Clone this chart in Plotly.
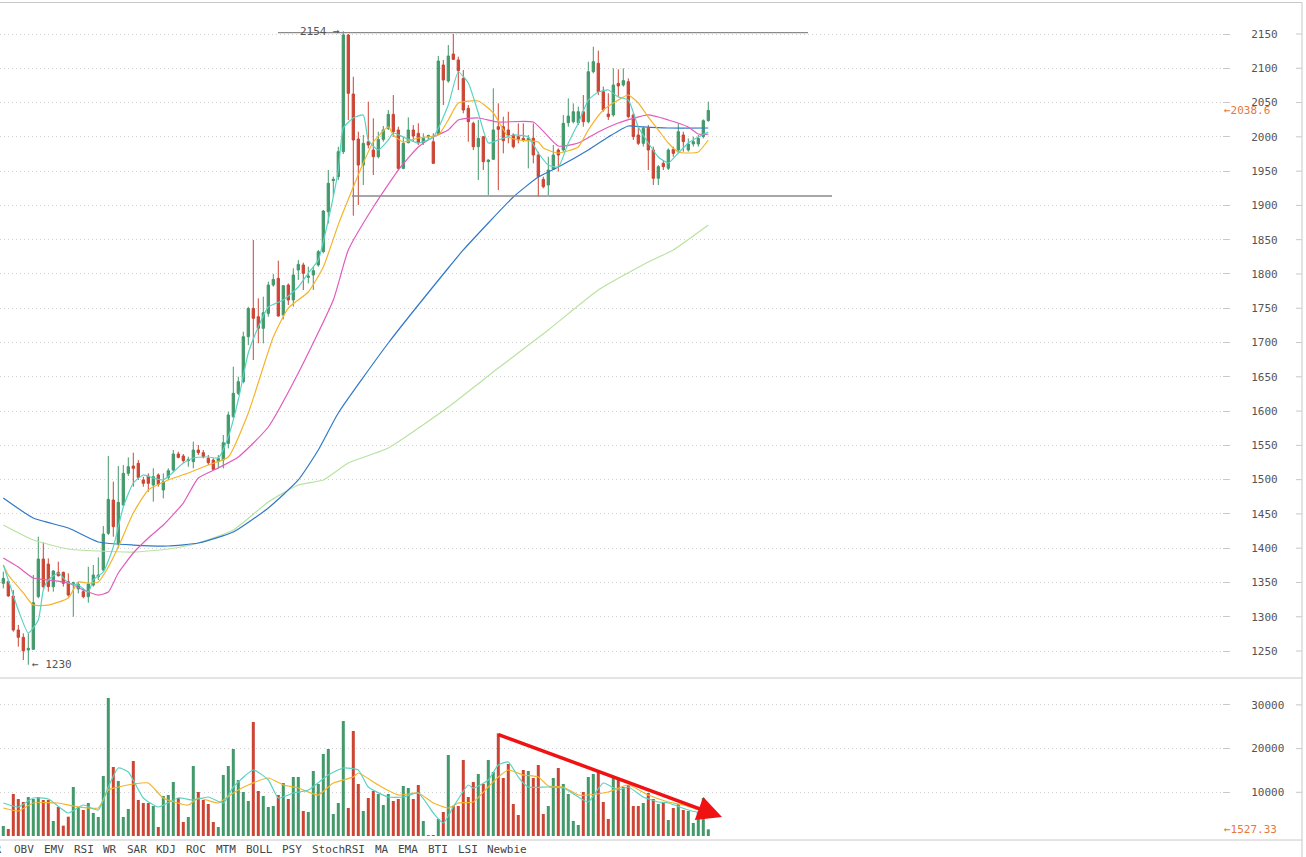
import plotly.graph_objects as go

# ---------------- data ----------------
open_ = [1348.7, 1351.2, 1330.3, 1280.7, 1270.0, 1251.5, 1252.5, 1329.3, 1384.2, 1376.9,
         1343.9, 1364.8, 1364.8, 1351.2, 1347.8, 1340.5, 1336.6, 1329.3, 1346.3, 1358.5,
         1368.2, 1421.7, 1470.3, 1407.1, 1463.0, 1509.2, 1519.9, 1523.8, 1499.5, 1505.3,
         1492.2, 1506.8, 1484.9, 1503.3, 1514.0, 1537.4, 1534.5, 1527.7, 1526.2, 1543.2,
         1539.3, 1531.0, 1528.6, 1526.2, 1528.6, 1552.9, 1591.8, 1625.9, 1642.9, 1708.5,
         1749.8, 1737.7, 1720.7, 1742.5, 1783.9, 1793.6, 1740.1, 1783.9, 1762.0, 1805.8,
         1813.1, 1795.1, 1798.5, 1813.1, 1832.5, 1890.8, 1936.1, 1941.9, 1978.4, 2148.5,
         2062.5, 1996.8, 1958.9, 1992.9, 1980.8, 1971.1, 1996.3, 2012.4, 2032.8, 2010.0,
         1954.0, 1991.5, 2010.0, 2005.1, 1991.5, 2000.0, 1992.9, 2005.1, 2104.8, 2081.4,
         2120.8, 2112.1, 2085.3, 2041.6, 2019.7, 1985.6, 2000.2, 1963.8, 1967.2, 2014.8,
         2014.8, 2010.0, 2002.7, 2000.2, 1997.8, 1995.4, 1998.0, 1973.5, 1938.0, 1929.7,
         1952.6, 1980.8, 1980.8, 2020.6, 2022.1, 2020.6, 2036.7, 2022.1, 2095.0, 2107.2,
         2065.9, 2033.3, 2031.9, 2078.0, 2075.6, 2080.5, 2031.9, 2002.7, 1990.5, 2012.4,
         1980.8, 1939.5, 1961.4, 1954.1, 1981.8, 1980.8, 2002.7, 1980.8, 1989.6, 1989.6,
         2000.3, 2023.6]
high = [1365.8, 1353.6, 1339.0, 1288.0, 1275.8, 1275.8, 1360.9, 1416.8, 1408.5, 1385.2,
        1368.2, 1380.3, 1365.8, 1363.3, 1351.2, 1351.2, 1341.4, 1373.0, 1375.5, 1386.7,
        1432.4, 1534.5, 1497.0, 1519.9, 1521.3, 1532.5, 1539.3, 1528.6, 1504.3, 1509.2,
        1516.5, 1509.2, 1509.2, 1516.5, 1543.2, 1540.8, 1537.4, 1533.5, 1555.4, 1550.5,
        1543.2, 1535.9, 1531.0, 1535.9, 1565.1, 1599.1, 1664.8, 1650.2, 1715.8, 1752.0,
        1849.5, 1764.4, 1766.9, 1788.7, 1799.9, 1819.4, 1783.9, 1786.3, 1808.2, 1820.3,
        1816.4, 1810.6, 1810.6, 1835.0, 1893.3, 1951.6, 1941.9, 1985.6, 2154.0, 2150.0,
        2087.7, 2007.5, 2002.7, 2051.3, 2027.0, 2007.5, 2015.8, 2039.1, 2061.0, 2014.8,
        2000.2, 2028.4, 2017.2, 2019.7, 2005.1, 2003.0, 2005.1, 2117.9, 2112.1, 2133.9,
        2150.0, 2116.9, 2097.5, 2046.4, 2022.1, 2024.5, 2001.2, 1967.0, 2070.7, 2048.9,
        2029.4, 2036.7, 2005.1, 2019.7, 2019.7, 2002.7, 2019.7, 1978.3, 1941.9, 1971.0,
        1988.1, 1983.2, 2031.8, 2056.1, 2048.8, 2044.0, 2061.0, 2109.6, 2131.5, 2125.7,
        2073.2, 2063.5, 2099.9, 2098.5, 2099.9, 2085.3, 2034.3, 2014.8, 2014.8, 2017.3,
        1985.7, 1958.9, 1966.2, 1983.2, 1985.7, 2019.7, 2007.5, 1997.8, 2000.3, 2002.7,
        2025.5, 2051.3]
low = [1341.4, 1329.3, 1278.2, 1256.4, 1236.9, 1230.0, 1251.5, 1327.0, 1341.4, 1336.6,
       1336.6, 1358.5, 1343.9, 1329.3, 1300.1, 1334.1, 1326.9, 1320.5, 1343.9, 1353.6,
       1365.8, 1419.2, 1416.8, 1399.8, 1461.0, 1505.3, 1489.7, 1499.5, 1489.7, 1482.4,
       1467.9, 1489.7, 1472.7, 1499.5, 1511.6, 1531.0, 1524.7, 1518.9, 1516.5, 1535.9,
       1531.0, 1521.3, 1514.0, 1516.4, 1516.4, 1545.6, 1589.4, 1623.4, 1640.4, 1696.3,
       1674.5, 1698.8, 1698.8, 1737.7, 1781.4, 1737.7, 1733.8, 1754.7, 1752.3, 1791.2,
       1776.6, 1786.3, 1776.6, 1810.6, 1830.1, 1873.8, 1912.7, 1937.0, 1975.0, 2024.5,
       1885.0, 1900.6, 1929.7, 1983.2, 1944.3, 1968.6, 1992.9, 2010.0, 2000.2, 1951.6,
       1952.6, 1990.5, 1992.9, 1988.1, 1988.1, 1996.0, 1960.4, 2002.7, 2046.4, 2079.0,
       2112.1, 2068.3, 2034.3, 1992.9, 1980.8, 1937.0, 1951.6, 1915.2, 1966.2, 1922.4,
       1975.9, 1990.5, 1983.2, 1990.5, 1992.9, 1954.0, 1961.3, 1912.7, 1924.9, 1915.1,
       1951.6, 1949.2, 1978.3, 2014.8, 2019.7, 2017.2, 2014.8, 2019.7, 2092.6, 2061.0,
       2036.7, 2024.6, 2029.4, 2058.6, 2073.2, 2027.0, 1995.4, 1988.1, 1985.7, 1951.6,
       1929.8, 1929.8, 1951.6, 1951.6, 1971.1, 1975.9, 1978.4, 1978.4, 1985.7, 1985.7,
       1997.8, 2022.1]
close = [1356.0, 1330.3, 1280.7, 1270.0, 1250.5, 1253.9, 1320.5, 1384.2, 1343.9, 1343.9,
         1366.7, 1359.9, 1348.7, 1331.7, 1349.7, 1347.3, 1329.3, 1347.8, 1360.9, 1360.9,
         1420.7, 1471.3, 1431.4, 1466.9, 1509.2, 1518.9, 1516.5, 1503.3, 1494.6, 1494.6,
         1504.3, 1493.1, 1497.0, 1513.1, 1537.4, 1532.5, 1527.7, 1529.6, 1543.2, 1539.3,
         1533.5, 1524.7, 1515.0, 1531.0, 1553.9, 1594.3, 1625.9, 1642.9, 1708.5, 1749.8,
         1735.3, 1720.7, 1743.5, 1783.9, 1792.1, 1738.7, 1782.9, 1762.0, 1798.5, 1814.0,
         1800.9, 1797.0, 1804.8, 1832.5, 1891.8, 1932.2, 1938.0, 1978.4, 2148.5, 2063.4,
         1995.4, 1958.9, 1990.5, 1988.1, 1971.1, 1996.3, 2010.0, 2032.8, 2007.5, 1954.0,
         1990.5, 2010.0, 2001.2, 1991.5, 1997.8, 2002.0, 1961.3, 2110.6, 2082.9, 2117.9,
         2113.0, 2096.5, 2039.1, 2022.1, 1985.6, 1997.8, 1963.8, 1966.2, 2010.0, 2010.9,
         1994.4, 2002.7, 1985.6, 1996.3, 1995.4, 1997.8, 1973.5, 1941.9, 1927.3, 1951.6,
         1973.5, 1973.5, 2019.7, 2030.4, 2036.7, 2036.7, 2022.1, 2095.0, 2109.7, 2065.9,
         2039.2, 2029.4, 2075.6, 2074.2, 2082.0, 2029.4, 2000.3, 1990.5, 2012.4, 1980.8,
         1939.5, 1956.5, 1956.5, 1980.8, 1975.9, 2007.5, 1993.0, 1989.6, 1993.0, 1997.8,
         2023.6, 2038.6]
volume = [2288, 1602, 9611, 8467, 7781, 8925, 8467, 8925, 8238, 8238,
          3433, 6636, 2365, 4424, 11213, 6636, 5950, 7552, 5263, 4348,
          13730, 31580, 15790, 12586, 4348, 6179, 17163, 8238, 7552, 7552,
          6865, 2060, 9154, 9382, 12357, 8696, 3204, 4348, 16019, 10069,
          8238, 7323, 3204, 2060, 13959, 16019, 19909, 12815, 10069, 8009,
          26088, 10298, 9154, 6636, 6865, 9382, 12129, 8467, 13502, 13502,
          5721, 5492, 14875, 11900, 18765, 19909, 5034, 7552, 26317, 6408,
          24028, 11900, 5721, 8696, 10298, 9611, 7094, 9611, 8009, 8467,
          11442, 10984, 8467, 11671, 3433, 229, 229, 3890, 5492, 18536,
          6865, 6865, 17392, 8925, 12357, 14188, 11900, 17392, 14646, 23494,
          13273, 16476, 7323, 4806, 15103, 14875, 13273, 16248, 5034, 6865,
          13273, 15561, 11900, 9611, 3433, 2517, 10069, 13502, 14188, 14646,
          7781, 3890, 13273, 12815, 11213, 11671, 6865, 6865, 7552, 9840,
          8467, 7323, 7781, 3661, 6408, 7323, 5950, 5721, 2975, 5492,
          8696, 1527.33]
candle_idx = list(range(len(close)))

# moving-average lines (candle index, value)
ma5_x = [0, 1, 3, 5, 7, 8, 9, 11, 13, 15, 17, 18, 20, 22, 24, 26, 28, 30, 32, 34, 36, 38, 41,
         43, 45, 47, 49, 51, 53, 56, 59, 61, 63, 65, 67, 68, 70, 72, 73, 75, 77, 78, 80, 83,
         86, 89, 91, 93, 95, 97, 99, 102, 105, 107, 109, 111, 113, 115, 117, 119, 121, 123,
         125, 127, 129, 131, 133, 135, 137, 139, 141]
ma5_y = [1375.5, 1353.6, 1309.8, 1276.3, 1295.3, 1339.0, 1353.6, 1363.8, 1349.2, 1346.3,
         1336.1, 1353.6, 1365.3, 1401.7, 1460.1, 1495.1, 1506.8, 1502.4, 1499.5, 1511.1,
         1524.3, 1531.6, 1533.0, 1531.6, 1562.2, 1616.2, 1684.7, 1722.6, 1751.8, 1762.0,
         1781.0, 1801.4, 1820.4, 1878.7, 1951.6, 2012.9, 2027.5, 2031.9, 1995.4, 1980.8,
         1995.4, 2005.6, 1999.8, 1991.0, 1999.8, 2046.4, 2094.6, 2078.5, 2034.8, 1991.0,
         1995.4, 2002.7, 1999.8, 1976.4, 1958.9, 1956.0, 1991.0, 2020.2, 2053.7, 2065.4,
         2068.3, 2058.1, 2053.7, 2014.4, 1991.0, 1970.6, 1961.8, 1976.4, 1991.0, 1999.8,
         2007.1]
ma10_x = [0, 1, 4, 6, 9, 13, 15, 17, 19, 21, 23, 26, 29, 33, 37, 41, 45, 49, 54, 57, 61, 64,
          67, 70, 72, 74, 77, 78, 80, 83, 87, 89, 91, 95, 98, 101, 103, 107, 108, 111, 115,
          117, 120, 123, 125, 127, 129, 131, 133, 135, 137, 139, 141]
ma10_y = [1375.5, 1360.9, 1334.7, 1317.1, 1317.1, 1327.3, 1350.7, 1349.2, 1350.7, 1372.6,
          1401.7, 1451.3, 1484.9, 1499.5, 1509.7, 1521.3, 1533.0, 1597.2, 1708.0, 1750.3,
          1773.7, 1810.1, 1872.0, 1926.8, 1961.8, 1992.5, 2014.4, 2002.7, 1992.5, 1998.3,
          2002.7, 2024.6, 2049.4, 2052.3, 2034.8, 1999.8, 1995.4, 1992.5, 1983.7, 1976.4,
          1985.2, 2010.0, 2039.1, 2053.7, 2061.0, 2049.4, 2028.9, 2010.0, 1991.0, 1977.9,
          1976.4, 1977.9, 1995.4]
ma30_x = [0, 3, 6, 9, 13, 16, 19, 21, 23, 26, 29, 32, 36, 39, 43, 47, 53, 59, 66, 69, 74, 79,
          83, 86, 89, 91, 95, 99, 106, 111, 115, 119, 123, 129, 133, 137, 139, 141]
ma30_y = [1385.7, 1372.5, 1356.5, 1353.6, 1349.2, 1339.0, 1331.7, 1336.1, 1363.8, 1393.0,
          1414.9, 1433.8, 1465.9, 1502.4, 1517.0, 1533.0, 1576.8, 1655.5, 1762.0, 1834.9,
          1897.7, 1951.6, 1985.2, 1999.8, 2010.0, 2024.6, 2027.5, 2021.6, 2021.6, 1986.6,
          1991.0, 2007.1, 2020.2, 2031.9, 2024.6, 2014.4, 2004.1, 2004.1]
ma60_x = [0, 6, 13, 19, 26, 33, 39, 46, 53, 59, 63, 67, 77, 89, 92, 102, 107, 111, 117, 121,
          125, 128, 133, 141]
ma60_y = [1473.2, 1444.0, 1429.4, 1409.0, 1404.6, 1403.2, 1407.6, 1423.6, 1458.6, 1499.5,
          1543.2, 1597.2, 1699.3, 1808.7, 1835.0, 1912.2, 1941.4, 1956.0, 1980.8, 1999.8,
          2015.8, 2014.4, 2012.9, 2012.9]
ma120_x = [0, 6, 13, 19, 26, 33, 39, 46, 53, 59, 64, 69, 77, 89, 99, 109, 119, 129, 134, 141]
ma120_y = [1433.8, 1411.9, 1398.8, 1395.9, 1394.4, 1398.8, 1407.6, 1426.5, 1467.4, 1492.2,
           1499.5, 1524.3, 1546.1, 1605.9, 1662.8, 1718.3, 1776.6, 1817.4, 1835.0, 1871.4]
vol_ma5_x = [0, 3, 6, 9, 13, 16, 19, 21, 23, 25, 28, 31, 35, 38, 41, 44, 46, 50, 53, 55, 58,
             61, 65, 68, 71, 73, 77, 80, 83, 86, 88, 90, 93, 94, 97, 99, 101, 103, 105, 109,
             112, 115, 117, 120, 123, 125, 128, 131, 133, 137, 139, 141]
vol_ma5_y = [7551, 6636, 8695, 8466, 5263, 7094, 5950, 11213, 15560, 14645, 8695, 6636, 8695,
             8238, 8924, 7551, 11213, 15102, 12813, 8695, 9839, 10525, 13957, 15560, 15102,
             11213, 8924, 8924, 9839, 5263, 2975, 6636, 11670, 10983, 12813, 16245, 16932,
             13500, 11213, 11213, 10983, 8924, 7780, 12127, 10525, 11213, 8924, 7780, 7551,
             5950, 5492, 6636]
vol_ma10_x = [0, 3, 6, 11, 14, 19, 21, 23, 26, 29, 32, 37, 39, 43, 46, 49, 53, 56, 59, 63, 66,
              70, 71, 75, 79, 83, 86, 89, 91, 94, 97, 99, 101, 104, 107, 109, 112, 115, 117,
              121, 125, 129, 133, 136, 139]
vol_ma10_y = [6407, 5721, 7551, 7551, 6865, 6407, 10525, 11213, 11898, 12127, 8695, 7094,
              8695, 7551, 9839, 11670, 13271, 11670, 10983, 9381, 12127, 13500, 14415, 11670,
              9381, 9839, 7551, 6407, 7551, 7780, 11213, 13500, 15102, 13957, 13500, 11440,
              11213, 9381, 9381, 10067, 11670, 9381, 7780, 7094, 5950]

price_ticks = list(range(1250, 2151, 50))
volume_ticks = [10000, 20000, 30000]
tab_labels = ["VR", "OBV", "EMV", "RSI", "WR", "SAR", "KDJ", "ROC", "MTM", "BOLL", "PSY",
              "StochRSI", "MA", "EMA", "BTI", "LSI", "Newbie"]
last_price = 2038.6
last_volume = 1527.33
period_high = 2154
period_low = 1230
resistance_level = 2152
support_level = 1913.7

# ---------------- layout helpers (pixels) ----------------
W, H = 1306, 857
PLOT_R = 1222                     # right edge of plotting area in px
def px_x(px):
    return px / PLOT_R
def px_y(py):
    return 1 - py / H
CANDLE0_PX, STEP_PX = 3.3, 5.0    # pixel of first candle, pixels per candle
def idx_at(px):
    return (px - CANDLE0_PX) / STEP_PX

GREEN = "#43996a"
RED = "#cc4433"
CYAN = "#58d3c2"
ORANGE = "#f5b32a"
PINK = "#e25bbd"
BLUE = "#2f78c8"
LGREEN = "#b9e2a0"
GRID = "#d2d2d2"
BORDER = "#c8c8c8"
MONO = "DejaVu Sans Mono"

fig = go.Figure()

fig.add_trace(go.Candlestick(
    x=candle_idx, open=open_, high=high, low=low, close=close,
    increasing=dict(line=dict(color=GREEN, width=1), fillcolor=GREEN),
    decreasing=dict(line=dict(color=RED, width=1), fillcolor=RED),
    whiskerwidth=0, xaxis="x", yaxis="y", showlegend=False, hoverinfo="skip"))

for xs, ys, col in [(ma120_x, ma120_y, LGREEN), (ma60_x, ma60_y, BLUE),
                    (ma30_x, ma30_y, PINK), (ma10_x, ma10_y, ORANGE),
                    (ma5_x, ma5_y, CYAN)]:
    fig.add_trace(go.Scatter(x=xs, y=ys, mode="lines", xaxis="x", yaxis="y",
                             line=dict(color=col, width=1.2, shape="spline", smoothing=0.5),
                             showlegend=False, hoverinfo="skip"))

vol_colors = [GREEN if c >= o else RED for o, c in zip(open_, close)]
fig.add_trace(go.Bar(x=candle_idx, y=volume, width=0.6, xaxis="x2", yaxis="y2",
                     marker=dict(color=vol_colors, line=dict(width=0)),
                     showlegend=False, hoverinfo="skip"))
for xs, ys, col in [(vol_ma10_x, vol_ma10_y, ORANGE), (vol_ma5_x, vol_ma5_y, CYAN)]:
    fig.add_trace(go.Scatter(x=xs, y=ys, mode="lines", xaxis="x2", yaxis="y2",
                             line=dict(color=col, width=1.2, shape="spline", smoothing=0.5),
                             showlegend=False, hoverinfo="skip"))

x_range = [idx_at(0), idx_at(PLOT_R)]
axis_common = dict(side="right", ticks="outside", ticklen=7, tickcolor=BORDER,
                   tickfont=dict(family=MONO, size=11, color="#555555"),
                   ticklabelstandoff=19, showgrid=True, gridcolor=GRID, griddash="1px,3px",
                   gridwidth=1, zeroline=False, showline=False, fixedrange=True,
                   tickformat="d")

price_top, price_bottom_px = 2150 + 34 / 0.6856, 678
price_bottom = 2150 - (price_bottom_px - 34) / 0.6856
vol_per_px = 10000 / 43.7

shapes = []
# borders / separators
for py in [2.5, 678, 840]:
    shapes.append(dict(type="line", xref="paper", yref="paper", x0=0, x1=px_x(1302),
                       y0=px_y(py), y1=px_y(py), line=dict(color=BORDER, width=1)))
shapes.append(dict(type="line", xref="paper", yref="paper", x0=px_x(1302), x1=px_x(1302),
                   y0=0, y1=px_y(2.5), line=dict(color=BORDER, width=1)))
# outer tick marks at the right border
for t in price_ticks:
    shapes.append(dict(type="line", xref="paper", yref="y", x0=px_x(1296), x1=px_x(1302),
                       y0=t, y1=t, line=dict(color=BORDER, width=1)))
for t in volume_ticks:
    shapes.append(dict(type="line", xref="paper", yref="y2", x0=px_x(1296), x1=px_x(1302),
                       y0=t, y1=t, line=dict(color=BORDER, width=1)))
# drawn range lines
shapes.append(dict(type="line", xref="x", yref="y", x0=idx_at(278), x1=idx_at(808),
                   y0=resistance_level, y1=resistance_level, line=dict(color="#8a8a8a", width=1.3)))
shapes.append(dict(type="line", xref="x", yref="y", x0=idx_at(352), x1=idx_at(832),
                   y0=support_level, y1=support_level, line=dict(color="#8a8a8a", width=1.3)))

annotations = []
annotations.append(dict(xref="x", yref="y", x=idx_at(342), y=period_high - 1,
                        text=f"{period_high} →", showarrow=False, xanchor="right",
                        yanchor="middle", font=dict(family=MONO, size=11, color="#555555")))
annotations.append(dict(xref="x", yref="y", x=idx_at(30), y=period_low,
                        text=f"← {period_low}", showarrow=False, xanchor="left",
                        yanchor="middle", font=dict(family=MONO, size=11, color="#555555")))
annotations.append(dict(xref="paper", yref="y", x=px_x(1222), y=last_price,
                        text=f"←{last_price}", showarrow=False, xanchor="left",
                        yanchor="middle", font=dict(family=MONO, size=11, color="#e4793f")))
annotations.append(dict(xref="paper", yref="y2", x=px_x(1222), y=last_volume,
                        text=f"←{last_volume}", showarrow=False, xanchor="left",
                        yanchor="middle", font=dict(family=MONO, size=11, color="#e4793f")))
# red trend arrow on volume
annotations.append(dict(xref="x2", yref="y2", axref="x2", ayref="y2",
                        x=idx_at(722), y=(836 - 817) * vol_per_px,
                        ax=idx_at(497), ay=(836 - 734) * vol_per_px,
                        text="", showarrow=True, arrowhead=2, arrowsize=1.4,
                        arrowwidth=3.5, arrowcolor="#f01212", standoff=0))
# indicator tabs along the bottom
CHAR_W, GAP = 6.6, 10
pos = 12
for k, lab in enumerate(tab_labels):
    if k == 0:
        annotations.append(dict(xref="paper", yref="paper", x=px_x(pos - GAP + 2), y=px_y(849),
                                text=lab, showarrow=False, xanchor="right", yanchor="middle",
                                font=dict(family=MONO, size=11, color="#444444")))
        continue
    annotations.append(dict(xref="paper", yref="paper", x=px_x(pos), y=px_y(849),
                            text=lab, showarrow=False, xanchor="left", yanchor="middle",
                            font=dict(family=MONO, size=11, color="#444444")))
    pos += len(lab) * CHAR_W + GAP

fig.update_layout(
    width=W, height=H,
    margin=dict(l=0, r=W - PLOT_R, t=0, b=0),
    paper_bgcolor="white", plot_bgcolor="white",
    boxgap=0.35,
    xaxis=dict(domain=[0, 1], anchor="y", range=x_range, showticklabels=False,
               showgrid=False, zeroline=False, rangeslider=dict(visible=False), fixedrange=True),
    xaxis2=dict(domain=[0, 1], anchor="y2", range=x_range, matches="x", showticklabels=False,
                showgrid=False, zeroline=False, fixedrange=True),
    yaxis=dict(domain=[px_y(678), 1], range=[price_bottom, price_top], tickvals=price_ticks,
               **axis_common),
    yaxis2=dict(domain=[px_y(836), px_y(680)], range=[0, (836 - 680) * vol_per_px],
                tickvals=volume_ticks, **axis_common),
    shapes=shapes, annotations=annotations, showlegend=False,
    bargap=0.4,
)

fig.write_html("out.html")
